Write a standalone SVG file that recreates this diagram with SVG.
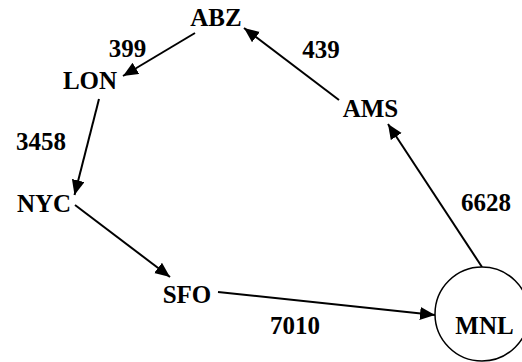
<svg xmlns="http://www.w3.org/2000/svg" width="522" height="362" viewBox="0 0 522 362">
<style>
text{font-family:'Liberation Serif', serif;font-weight:700;font-size:25px;fill:#000;text-anchor:middle}
.e line{stroke:#000;stroke-width:2;fill:none;marker-end:url(#ah)}
.n circle{fill:#fff;stroke:#000;stroke-width:1.5}
</style>
<defs>
<marker id="ah" markerUnits="userSpaceOnUse" markerWidth="16" markerHeight="14" refX="15" refY="6.5" orient="auto" viewBox="0 0 16 14">
<path d="M0,0 L15,6.5 L0,13 z" fill="#000"/>
</marker>
</defs>
<g id="edges" class="e">
<line x1="195" y1="33" x2="123" y2="76"/>
<line x1="339" y1="100" x2="244" y2="28"/>
<line x1="99" y1="99" x2="74.5" y2="195"/>
<line x1="75" y1="205" x2="170" y2="277"/>
<line x1="218" y1="292" x2="435" y2="315"/>
<line x1="482" y1="267" x2="388" y2="124"/>
</g>
<g id="edge-labels">
<text x="127.5" y="57">399</text>
<text x="41" y="150">3458</text>
<text x="321" y="58">439</text>
<text x="486" y="211">6628</text>
<text x="295" y="334">7010</text>
</g>
<g id="node-ABZ" class="n"><text x="216" y="26">ABZ</text></g>
<g id="node-LON" class="n"><text x="90" y="89">LON</text></g>
<g id="node-NYC" class="n"><text x="44" y="212">NYC</text></g>
<g id="node-SFO" class="n"><text x="187" y="303">SFO</text></g>
<g id="node-AMS" class="n"><text x="370.5" y="117">AMS</text></g>
<g id="node-MNL" class="n"><circle cx="482" cy="314" r="47"/><text x="484.5" y="334">MNL</text></g>
</svg>
